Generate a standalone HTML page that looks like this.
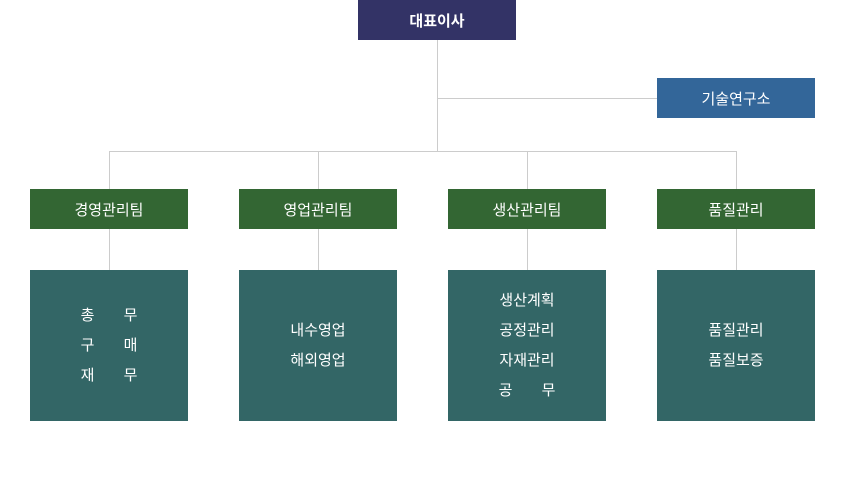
<!DOCTYPE html>
<html><head><meta charset="utf-8"><style>
body{margin:0;width:843px;height:501px;background:#fff;position:relative;overflow:hidden;font-family:"Liberation Sans","Noto Sans CJK KR",sans-serif;}
.b{position:absolute;color:#fff;font-size:15px;display:flex;align-items:center;justify-content:center;text-align:center}
.l{position:absolute;background:#cccccc}
.t{position:absolute;width:158px;height:150px;top:271px;background:#336666;color:#fff;font-size:15px;display:flex;flex-direction:column;justify-content:center;align-items:center;line-height:30px;box-shadow:0 -1px 0 #336666}
.g{top:189px;width:158px;height:40px;background:#336633}
.w{word-spacing:25px}
</style></head><body>
<div class="l" style="left:437px;top:40px;width:1px;height:112px"></div>
<div class="l" style="left:437px;top:98px;width:220px;height:1px"></div>
<div class="l" style="left:109px;top:151px;width:628px;height:1px"></div>
<div class="l" style="left:109px;top:151px;width:1px;height:119px"></div>
<div class="l" style="left:318px;top:151px;width:1px;height:119px"></div>
<div class="l" style="left:527px;top:151px;width:1px;height:119px"></div>
<div class="l" style="left:736px;top:151px;width:1px;height:119px"></div>
<div class="b" style="left:358px;top:0;width:158px;height:40px;background:#333366;font-weight:bold">대표이사</div>
<div class="b" style="left:657px;top:78px;width:158px;height:40px;background:#336699">기술연구소</div>
<div class="b g" style="left:30px">경영관리팀</div>
<div class="b g" style="left:239px">영업관리팀</div>
<div class="b g" style="left:448px">생산관리팀</div>
<div class="b g" style="left:657px">품질관리</div>
<div class="t" style="left:30px"><div class="w">총 무</div><div class="w">구 매</div><div class="w">재 무</div></div>
<div class="t" style="left:239px"><div>내수영업</div><div>해외영업</div></div>
<div class="t" style="left:448px"><div>생산계획</div><div>공정관리</div><div>자재관리</div><div class="w">공 무</div></div>
<div class="t" style="left:657px"><div>품질관리</div><div>품질보증</div></div>
</body></html>
